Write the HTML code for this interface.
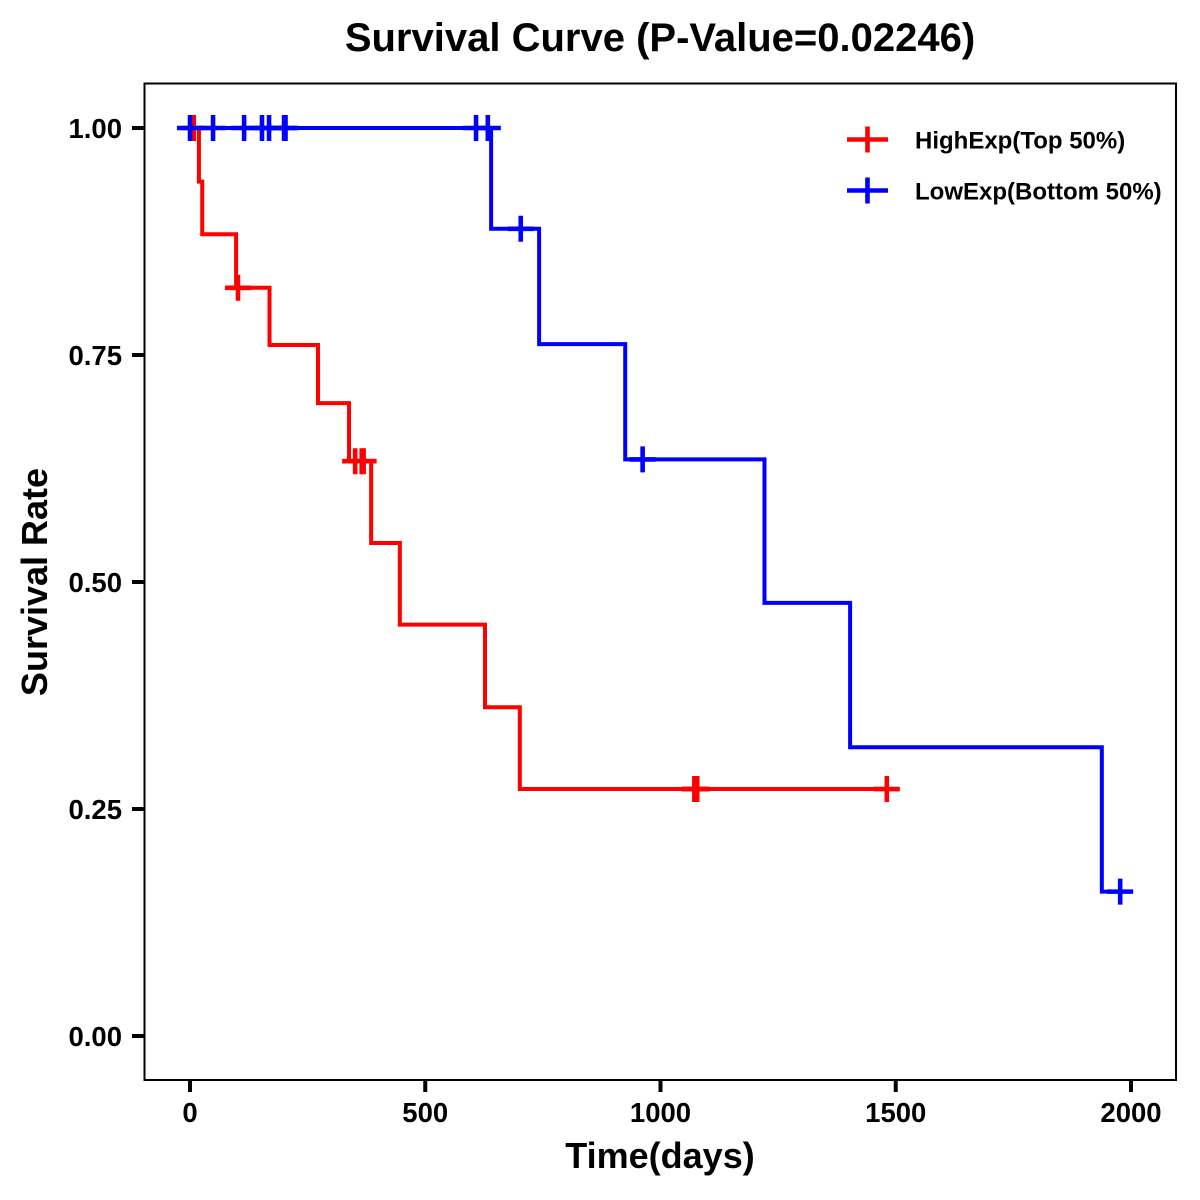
<!DOCTYPE html>
<html>
<head>
<meta charset="utf-8">
<title>Survival Curve</title>
<style>
html,body{margin:0;padding:0;background:#fff;}
svg{display:block;}
text{font-family:"Liberation Sans",Arial,sans-serif;font-weight:bold;fill:#000;}
</style>
</head>
<body>
<svg id="chart" width="1200" height="1200" viewBox="0 0 1200 1200" xmlns="http://www.w3.org/2000/svg">
<rect x="0" y="0" width="1200" height="1200" fill="#fff"/>
<text x="660" y="51" font-size="40" text-anchor="middle">Survival Curve (P-Value=0.02246)</text>
<text x="660" y="1168" font-size="36" text-anchor="middle">Time(days)</text>
<text x="47" y="582" font-size="36" text-anchor="middle" transform="rotate(-90 47 582)">Survival Rate</text>
<g id="axes"></g>
<g id="series"></g>
<rect x="144.5" y="83.5" width="1031.5" height="996.5" fill="none" stroke="#000" stroke-width="2"/>
<g id="legend"></g>
</svg>
<script>
var xTicks = [0, 500, 1000, 1500, 2000];
var yTicks = [0, 0.25, 0.5, 0.75, 1];
var yTickLabels = ["0.00", "0.25", "0.50", "0.75", "1.00"];

var highTimes = [0, 19, 26, 98, 169, 272, 338, 385, 446, 627, 701, 1481];
var highSurvival = [1, 0.941, 0.883, 0.824, 0.761, 0.697, 0.633, 0.543, 0.453, 0.362, 0.272, 0.272];
var highCensorTimes = [8, 102, 351, 365, 369, 1072, 1075, 1078, 1481];

var lowTimes = [0, 640, 742, 925, 1221, 1403, 1938, 1977];
var lowSurvival = [1, 0.889, 0.762, 0.635, 0.477, 0.318, 0.159, 0.159];
var lowCensorTimes = [0, 49, 115, 153, 168, 200, 203, 608, 633, 703, 962, 1977];

var legendLabels = ["HighExp(Top 50%)", "LowExp(Bottom 50%)"];
var seriesColors = ["#ff0000", "#0000ff"];

var NS = "http://www.w3.org/2000/svg";
function sx(t) { return 190 + t * 0.4705; }
function sy(v) { return 1036 - v * 908; }
function make(tag, attrs, parent) {
  var el = document.createElementNS(NS, tag);
  for (var k in attrs) el.setAttribute(k, attrs[k]);
  parent.appendChild(el);
  return el;
}
var axes = document.getElementById("axes");
xTicks.forEach(function (t) {
  var tick = make("line", {x1: sx(t), x2: sx(t), y1: 1080, y2: 1092, stroke: "#000", "stroke-width": 4}, axes);
  
  
  var label = make("text", {x: sx(t), y: 1122, "font-size": 27.5, "text-anchor": "middle"}, axes);
  
  
  label.textContent = String(t);
});
yTicks.forEach(function (v, i) {
  var tick = make("line", {x1: 132, x2: 144, y1: sy(v), y2: sy(v), stroke: "#000", "stroke-width": 4}, axes);
  
  
  var label = make("text", {x: 122, y: sy(v) + 10, "font-size": 27.5, "text-anchor": "end"}, axes);
  
  
  label.textContent = yTickLabels[i];
});

function survivalAt(times, surv, t) {
  var s = surv[0];
  for (var i = 0; i < times.length; i++) { if (times[i] <= t) s = surv[i]; }
  return s;
}
function stepPath(times, surv) {
  var d = "M" + sx(times[0]) + " " + sy(surv[0]);
  for (var i = 1; i < times.length; i++) {
    d += "H" + sx(times[i]) + "V" + sy(surv[i]);
  }
  return d;
}
var seriesRoot = document.getElementById("series");
function drawSeries(times, surv, censor, color, name) {
  var g = make("g", {}, seriesRoot);
  
  
  var line = make("path", {d: stepPath(times, surv), fill: "none", stroke: color, "stroke-width": 4, "stroke-linejoin": "miter"}, g);
  
  
  censor.forEach(function (t) {
    var cx = sx(t), cy = sy(survivalAt(times, surv, t));
    var mark = make("path", {d: "M" + (cx - 13) + " " + cy + "H" + (cx + 13) + "M" + cx + " " + (cy - 13) + "V" + (cy + 13), fill: "none", stroke: color, "stroke-width": 4.6}, g);
    
    
  });
}
drawSeries(highTimes, highSurvival, highCensorTimes, seriesColors[0], "high-exp-series");
drawSeries(lowTimes, lowSurvival, lowCensorTimes, seriesColors[1], "low-exp-series");

var legend = document.getElementById("legend");
legendLabels.forEach(function (txt, i) {
  var y = 139.5 + i * 51;
  var entry = make("g", {}, legend);
  
  
  var key = make("path", {d: "M847 " + y + "H888M867.5 " + (y - 13) + "V" + (y + 13), fill: "none", stroke: seriesColors[i], "stroke-width": 4.6}, entry);
  
  
  var label = make("text", {x: 915, y: y + 9, "font-size": 24}, entry);
  
  
  label.textContent = txt;
});
</script>
</body>
</html>
